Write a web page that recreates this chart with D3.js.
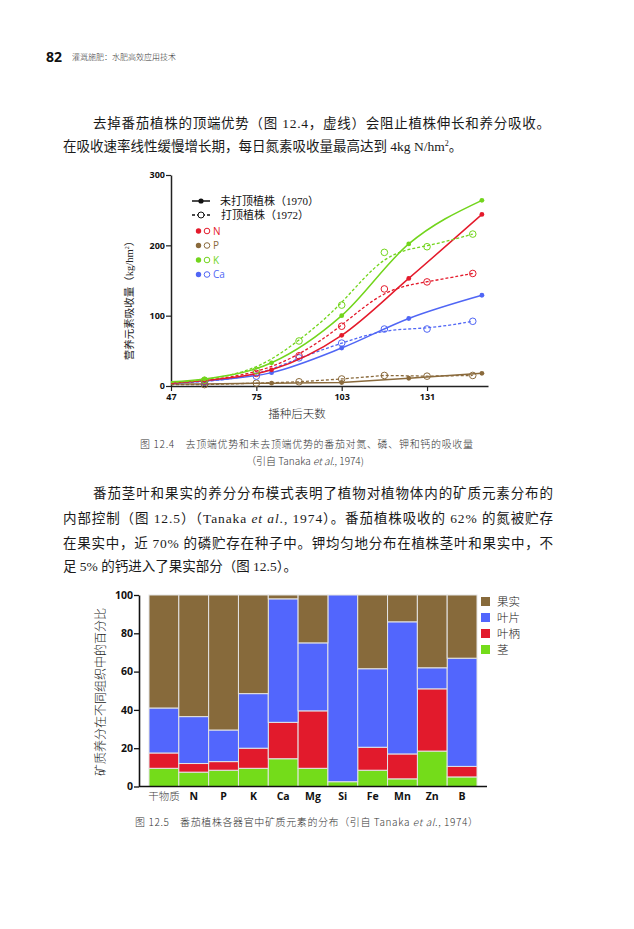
<!DOCTYPE html>
<html><head><meta charset="utf-8">
<script src="https://cdn.jsdelivr.net/npm/d3@7"></script>
<style>body{margin:0;background:#fff} svg{display:block}</style>
</head><body><svg id="c" width="634" height="929"></svg>
<script>
// ---------- Figure 12.4 data ----------
const daysTopped0 = [47, 58, 80, 103, 125, 149];          // 未打顶植株 (1970)
const nUntopped  = [4, 8, 23, 72, 153, 244];
const pUntopped  = [3, 3, 4, 5, 11, 18];
const kUntopped  = [6, 10, 33, 100, 202, 264];
const caUntopped = [4, 7, 19, 54, 96, 129];
const daysTopped = [47, 58, 75, 89, 103, 117, 131, 146];  // 打顶植株 (1972)
const nTopped    = [4, 7, 18, 43, 85, 138, 148, 160];
const pTopped    = [2, 2, 4, 6, 10, 15, 14, 15];
const kTopped    = [5, 8, 22, 64, 115, 190, 198, 216];
const caTopped   = [4, 6, 14, 40, 61, 81, 81, 92];
const nutrients  = ["N", "P", "K", "Ca"];
const nutColors  = ["#e41a2b", "#8a6a3c", "#72d51c", "#5066f5"];
const xTicks1 = [47, 75, 103, 131];
const yTicks1 = [0, 100, 200, 300];

// ---------- Figure 12.5 data ----------
const elements = ["干物质","N","P","K","Ca","Mg","Si","Fe","Mn","Zn","B"];
const organs   = ["茎","叶柄","叶片","果实"];
const stem     = [9.5, 7.5, 8.5, 9.5, 14.5, 9.5, 2.5, 8.5, 4, 18.5, 5];
const petiole  = [8, 4.5, 4.5, 10.5, 19, 30, 0, 12, 13, 32.5, 5.5];
const leaf     = [23.5, 24.5, 16.5, 28.5, 64.5, 35.5, 97.5, 41, 69, 11, 56.5];
const fruit    = [59, 63.5, 70.5, 51.5, 2, 25, 0, 38.5, 14, 38, 33];
const organColors = ["#74dc1a", "#e21a2c", "#5266fd", "#876a3b"];
const yTicks2 = [0, 20, 40, 60, 80, 100];

const svg = d3.select("#c");
const CJK = "'Noto Sans CJK SC', sans-serif";
const SERIF = "'Liberation Serif', 'Noto Sans CJK SC', serif";
const SANS = "'Open Sans', 'Noto Sans CJK SC', sans-serif";

// ---------- page header & text ----------
svg.append("text").attr("x", 46).attr("y", 62).attr("font-family", SANS)
  .attr("font-weight", "bold").attr("font-size", 14).attr("fill", "#111").text("82");
svg.append("text").attr("x", 72).attr("y", 60).attr("font-family", CJK).attr("font-weight", 300)
  .attr("font-size", 8).attr("fill", "#333").text("灌溉施肥：水肥高效应用技术");

function bodyLine(x, y, parts, len) {
  const t = svg.append("text").attr("x", x).attr("y", y).attr("font-family", SERIF)
    .attr("font-size", 13.5).attr("fill", "#1a1a1a");
  parts.forEach(p => {
    const s = t.append("tspan").text(p.t);
    if (p.i) s.attr("font-style", "italic");
    if (p.sup) s.attr("font-size", 8).attr("dy", -5);
    if (p.after) s.attr("dy", 5);
  });
  if (len) t.attr("textLength", len).attr("lengthAdjust", "spacing");
}
bodyLine(93, 128, [{t: "去掉番茄植株的顶端优势（图 12.4，虚线）会阻止植株伸长和养分吸收。"}], 457);
bodyLine(63, 151, [{t: "在吸收速率线性缓慢增长期，每日氮素吸收量最高达到 4kg N/hm"}, {t: "2", sup: true}, {t: "。", after: true}]);
bodyLine(93, 498, [{t: "番茄茎叶和果实的养分分布模式表明了植物对植物体内的矿质元素分布的"}], 460);
bodyLine(63, 523, [{t: "内部控制（图 12.5）（Tanaka "}, {t: "et al", i: true}, {t: "., 1974）。番茄植株吸收的 62% 的氮被贮存"}], 490);
bodyLine(63, 548, [{t: "在果实中，近 70% 的磷贮存在种子中。钾均匀地分布在植株茎叶和果实中，不"}], 490);
bodyLine(63, 571, [{t: "足 5% 的钙进入了果实部分（图 12.5）。"}]);

// ---------- Figure 12.4 ----------
const x1 = d3.scaleLinear().domain([47, 151]).range([171, 488]);
const y1 = d3.scaleLinear().domain([0, 300]).range([386, 175]);

const g1 = svg.append("g");
const ax1 = g1.append("g").attr("transform", "translate(0,386)")
  .call(d3.axisBottom(x1).tickValues(xTicks1).tickSize(5).tickSizeOuter(0));
const ay1 = g1.append("g").attr("transform", "translate(171,0)")
  .call(d3.axisLeft(y1).tickValues(yTicks1).tickSize(5).tickSizeOuter(0));
[ax1, ay1].forEach(a => {
  a.select(".domain").attr("stroke", "#222").attr("stroke-width", 1.5);
  a.selectAll(".tick line").attr("stroke", "#222").attr("stroke-width", 1.2);
  a.selectAll("text").attr("font-family", SANS).attr("font-weight", "bold")
    .attr("font-size", 9).attr("fill", "#111");
});
ay1.selectAll("text").attr("x", -6);

g1.append("text").attr("x", 297).attr("y", 418).attr("text-anchor", "middle")
  .attr("font-family", CJK).attr("font-weight", 300).attr("font-size", 11.5).attr("fill", "#222").text("播种后天数");
const yl1 = g1.append("text").attr("transform", "translate(133,298) rotate(-90)")
  .attr("text-anchor", "middle").attr("font-family", SERIF)
  .attr("font-size", 10.5).attr("fill", "#222");
yl1.append("tspan").text("营养元素吸收量（kg/hm");
yl1.append("tspan").attr("font-size", 6).attr("dy", -4).text("2");
yl1.append("tspan").attr("dy", 4).text("）");

const untopped = [nUntopped, pUntopped, kUntopped, caUntopped];
const topped = [nTopped, pTopped, kTopped, caTopped];

function drawSeries(days, vals, color, dashed, isP) {
  const pts = days.map((d, i) => ({d, v: vals[i], i}));
  const curve = isP ? d3.curveLinear : (dashed ? d3.curveBasis : d3.curveMonotoneX);
  const line = d3.line().x(p => x1(p.d)).y(p => y1(p.v)).curve(curve);
  g1.append("path").datum(pts).attr("d", line).attr("fill", "none")
    .attr("stroke", color).attr("stroke-width", dashed ? 1.3 : 1.5)
    .attr("stroke-dasharray", dashed ? "3,2" : null);
  g1.selectAll(null).data(pts.filter(p => p.i > 0)).join("circle")
    .attr("cx", p => x1(p.d)).attr("cy", p => y1(p.v))
    .attr("r", dashed ? 3.3 : 2.4)
    .attr("fill", dashed ? "#fff" : color)
    .attr("fill-opacity", dashed ? 0 : 1)
    .attr("stroke", color).attr("stroke-width", dashed ? 1 : 0);
}
[1, 3, 0, 2].forEach(k => {
  drawSeries(daysTopped, topped[k], nutColors[k], true, k === 1);
  drawSeries(daysTopped0, untopped[k], nutColors[k], false, k === 1);
});

// legend
const lg = g1.append("g");
lg.append("line").attr("x1", 192).attr("x2", 210).attr("y1", 201).attr("y2", 201)
  .attr("stroke", "#111").attr("stroke-width", 1.5);
lg.append("circle").attr("cx", 201).attr("cy", 201).attr("r", 2.6).attr("fill", "#111");
lg.append("line").attr("x1", 192).attr("x2", 210).attr("y1", 215).attr("y2", 215)
  .attr("stroke", "#111").attr("stroke-width", 1.3).attr("stroke-dasharray", "3,2");
lg.append("circle").attr("cx", 201).attr("cy", 215).attr("r", 3).attr("fill", "#fff")
  .attr("stroke", "#111").attr("stroke-width", 1);
lg.append("text").attr("x", 220).attr("y", 205).attr("font-family", SERIF)
  .attr("font-size", 11).attr("fill", "#111").text("未打顶植株（1970）");
lg.append("text").attr("x", 221).attr("y", 219).attr("font-family", SERIF)
  .attr("font-size", 11).attr("fill", "#111").text("打顶植株（1972）");
nutrients.forEach((n, i) => {
  const yy = 231 + i * 14.5;
  lg.append("circle").attr("cx", 198.5).attr("cy", yy).attr("r", 2.7).attr("fill", nutColors[i]);
  lg.append("circle").attr("cx", 207).attr("cy", yy).attr("r", 2.8).attr("fill", "#fff")
    .attr("stroke", nutColors[i]).attr("stroke-width", 1);
  lg.append("text").attr("x", 213).attr("y", yy + 3.8).attr("font-family", SANS)
    .attr("font-size", 10).attr("fill", nutColors[i]).text(n);
});

// caption 12.4
svg.append("text").attr("x", 140).attr("y", 448).attr("font-family", CJK).attr("font-weight", 300)
  .attr("font-size", 10).attr("fill", "#333").attr("textLength", 333).attr("lengthAdjust", "spacing")
  .text("图 12.4　去顶端优势和未去顶端优势的番茄对氮、磷、钾和钙的吸收量");
const c2 = svg.append("text").attr("x", 305).attr("y", 465).attr("text-anchor", "middle")
  .attr("font-family", CJK).attr("font-weight", 300).attr("font-size", 10).attr("fill", "#333");
c2.append("tspan").text("（引自 Tanaka  ");
c2.append("tspan").attr("font-style", "italic").text("et al.");
c2.append("tspan").text(", 1974)");

// ---------- Figure 12.5 ----------
const x2 = d3.scaleBand().domain(elements).range([149, 477]).padding(0);
const y2 = d3.scaleLinear().domain([0, 100]).range([786.5, 595]);
const rows = elements.map((e, i) => ({e, "茎": stem[i], "叶柄": petiole[i], "叶片": leaf[i], "果实": fruit[i]}));
const stacked = d3.stack().keys(organs)(rows);

const g2 = svg.append("g");
g2.selectAll("g.layer").data(stacked).join("g").attr("class", "layer")
  .attr("fill", (d, i) => organColors[i])
  .selectAll("rect").data(d => d).join("rect")
  .attr("x", d => x2(d.data.e)).attr("width", x2.bandwidth())
  .attr("y", d => y2(d[1])).attr("height", d => y2(d[0]) - y2(d[1]))
  .attr("stroke", "#e4e4e4").attr("stroke-width", 1);

const ax2 = g2.append("g").attr("transform", "translate(0,786.5)")
  .call(d3.axisBottom(x2).tickSize(0).tickPadding(6));
ax2.select(".domain").remove();
g2.append("line").attr("x1", 139).attr("x2", 487).attr("y1", 786.5).attr("y2", 786.5)
  .attr("stroke", "#111").attr("stroke-width", 1.6);
ax2.selectAll("text").attr("font-family", SANS).attr("font-weight", "bold")
  .attr("font-size", 10.5).attr("fill", "#111");
ax2.selectAll("text").filter(d => d === "干物质")
  .attr("font-family", CJK).attr("font-weight", 300).attr("fill", "#444");
const ay2 = g2.append("g").attr("transform", "translate(139,0)")
  .call(d3.axisLeft(y2).tickValues(yTicks2).tickSize(5).tickSizeOuter(0));
ay2.select(".domain").attr("stroke", "#111").attr("stroke-width", 1.6);
ay2.selectAll(".tick line").attr("stroke", "#111").attr("stroke-width", 1.3);
ay2.selectAll("text").attr("font-family", SANS).attr("font-weight", "bold")
  .attr("font-size", 10.5).attr("fill", "#111").attr("x", -6);

g2.append("text").attr("transform", "translate(105,692) rotate(-90)").attr("text-anchor", "middle")
  .attr("font-family", CJK).attr("font-weight", 300).attr("font-size", 12).attr("fill", "#222")
  .text("矿质养分在不同组织中的百分比");

// legend 12.5 (top to bottom: 果实, 叶片, 叶柄, 茎)
const legendOrder = organs.slice().reverse();
legendOrder.forEach((o, i) => {
  const k = organs.indexOf(o);
  const yy = 601.5 + i * 16;
  g2.append("rect").attr("x", 481).attr("y", yy - 4.5).attr("width", 9).attr("height", 9)
    .attr("fill", organColors[k]);
  g2.append("text").attr("x", 497).attr("y", yy + 4.5).attr("font-family", CJK).attr("font-weight", 300)
    .attr("font-size", 11.5).attr("fill", "#222").text(o);
});

// caption 12.5
const c3 = svg.append("text").attr("x", 135).attr("y", 826).attr("font-family", CJK).attr("font-weight", 300)
  .attr("font-size", 10).attr("fill", "#333").attr("textLength", 343).attr("lengthAdjust", "spacing");
c3.append("tspan").text("图 12.5　番茄植株各器官中矿质元素的分布（引自 Tanaka ");
c3.append("tspan").attr("font-style", "italic").text("et al");
c3.append("tspan").text("., 1974）");
</script>
</body></html>
